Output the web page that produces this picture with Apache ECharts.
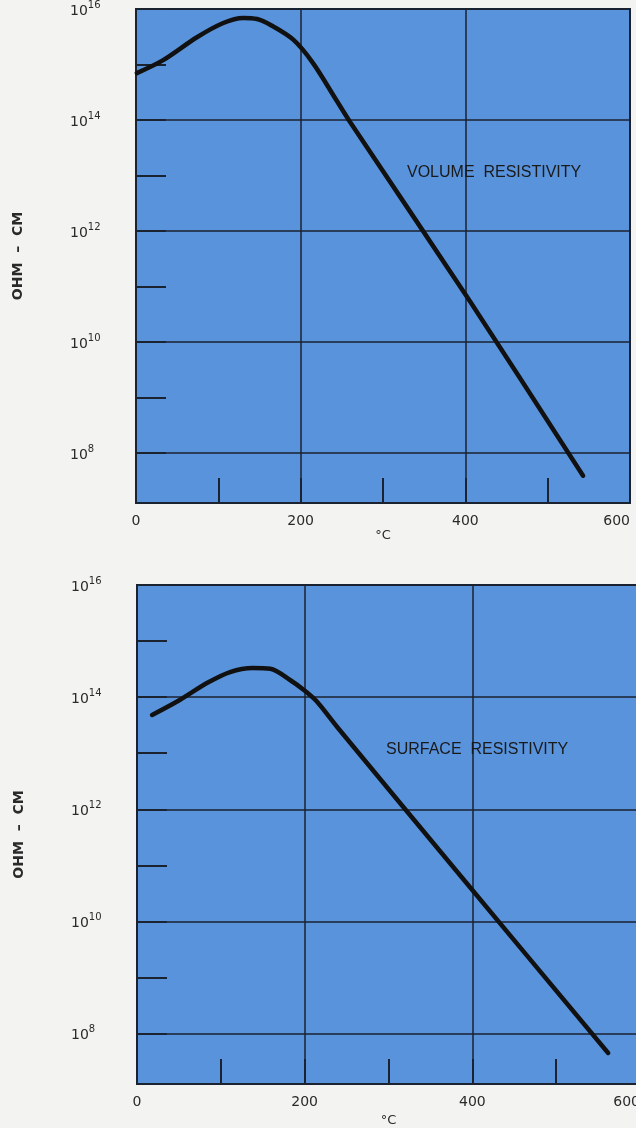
<!DOCTYPE html>
<html lang="en">
<head>
  <meta charset="UTF-8">
  <title>Resistivity vs temperature</title>
  <style>
    * { margin: 0; padding: 0; }
    body { background: #f3f3f1; }
    #chart { width: 636px; height: 1128px; }
  </style>
</head>
<body>
  <div id="chart"></div>

  <script src="https://cdn.jsdelivr.net/npm/echarts@6/dist/echarts.min.js"></script>
  <script type="text/javascript">
  // volume resistivity (ohm-cm) vs temperature (°C)
  var volumeTemp = [1, 33, 74, 106, 130, 147, 163, 191, 215, 244, 260, 406, 543];
  var volumeOhm = [7.0e14, 1.2e15, 3.1e15, 5.6e15, 6.9e15, 6.6e15, 5.2e15, 2.8e15, 1.06e15, 2.2e14,
                   9.2e13, 5.3e10, 3.9e7];

  // surface resistivity
  var surfaceTemp = [18, 51, 84, 111, 138, 159, 183, 199, 214, 239, 397, 562];
  var surfaceOhm = [4.8e13, 8.9e13, 1.8e14, 2.8e14, 3.3e14, 3.2e14, 2.0e14, 1.34e14, 8.5e13, 2.9e13,
                    4.1e10, 4.5e7];

  var tempTicks = [0, 200, 400, 600];
  var labelExponents = [8, 10, 12, 14, 16];

  var ink = '#1b2230';
  var paper = '#5993dc';
  var font = 'DejaVu Sans';

  function pairs(xs, ys) {
    return xs.map(function (x, i) { return [x, ys[i]]; });
  }

  function powLabel(val) {
    var e = Math.log10(val);
    var r = Math.round(e);
    if (Math.abs(e - r) > 0.01 || labelExponents.indexOf(r) < 0) return '';
    return '{b|10}{s|' + r + '}';
  }

  function xAxisOf(idx) {
    return {
      type: 'value', gridIndex: idx,
      min: tempTicks[0], max: tempTicks[tempTicks.length - 1], interval: 200,
      name: '°C', nameLocation: 'middle', nameGap: idx ? 30 : 26,
      nameTextStyle: { color: '#2a2a2a', fontSize: 13, fontFamily: font },
      axisLine: { show: true, lineStyle: { color: ink, width: 2 } },
      axisTick: { show: true, inside: true, length: 25, lineStyle: { color: ink, width: 2 } },
      minorTick: { show: true, splitNumber: 2, length: 25, lineStyle: { color: ink, width: 2 } },
      splitLine: { show: true, lineStyle: { color: ink, width: 1.5 } },
      axisLabel: { color: '#2a2a2a', fontSize: 14, fontFamily: font, margin: 11, alignMaxLabel: 'right' }
    };
  }

  function yAxisOf(idx) {
    return {
      type: 'log', gridIndex: idx, logBase: 10,
      min: Math.pow(10, 7.1), max: 1e16,
      name: 'OHM  –  CM', nameLocation: 'middle', nameGap: 111, nameRotate: 90,
      nameTextStyle: { color: '#2a2a2a', fontSize: 14, fontFamily: font, fontWeight: 'bold' },
      axisLine: { show: true, lineStyle: { color: ink, width: 2 } },
      axisTick: { show: true, inside: true, length: 30, lineStyle: { color: ink, width: 2 } },
      minorTick: { show: false },
      splitLine: { show: true, lineStyle: { color: ['rgba(0,0,0,0)', ink], width: 1.5 } },
      axisLabel: {
        formatter: powLabel, align: 'left', margin: 66, color: '#2a2a2a', fontFamily: font,
        rich: {
          b: { fontSize: 14, lineHeight: 18, verticalAlign: 'bottom', color: '#2a2a2a', fontFamily: font },
          s: { fontSize: 10, lineHeight: 12, verticalAlign: 'top', color: '#2a2a2a', fontFamily: font }
        }
      }
    };
  }

  function curve(idx, xs, ys) {
    return {
      type: 'line', xAxisIndex: idx, yAxisIndex: idx,
      data: pairs(xs, ys), smooth: 0.3, symbol: 'none',
      lineStyle: { color: '#111111', width: 4.5, cap: 'round', join: 'round' },
      clip: true, silent: true
    };
  }

  function main() {
    var chart = echarts.init(document.getElementById('chart'));
    var labelStyle = { color: '#1a1a1a', fontSize: 16, fontWeight: 'normal', fontFamily: 'Liberation Sans' };
    var option = {
      animation: false,
      title: [
        { text: 'VOLUME  RESISTIVITY', left: 407, top: 165, padding: 0, textStyle: labelStyle },
        { text: 'SURFACE  RESISTIVITY', left: 386, top: 742, padding: 0, textStyle: labelStyle }
      ],
      grid: [
        { left: 136, top: 9, width: 494, height: 494, show: true, backgroundColor: paper,
          borderColor: ink, borderWidth: 2, outerBoundsMode: 'none', containLabel: false },
        { left: 137, top: 585, width: 503, height: 499, show: true, backgroundColor: paper,
          borderColor: ink, borderWidth: 2, outerBoundsMode: 'none', containLabel: false }
      ],
      xAxis: [xAxisOf(0), xAxisOf(1)],
      yAxis: [yAxisOf(0), yAxisOf(1)],
      series: [curve(0, volumeTemp, volumeOhm), curve(1, surfaceTemp, surfaceOhm)]
    };
    chart.setOption(option);
  }

  window.addEventListener('load', main);
  </script>
</body>
</html>
